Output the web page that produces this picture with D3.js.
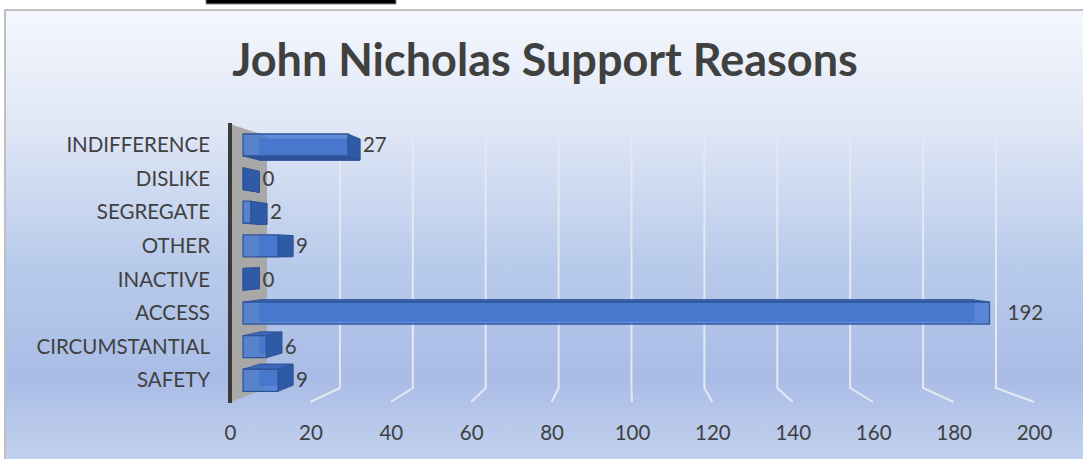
<!DOCTYPE html>
<html>
<head>
<meta charset="utf-8">
<script src="https://cdn.jsdelivr.net/npm/d3@7/dist/d3.min.js"></script>
<style>
  html, body { margin: 0; padding: 0; background: #ffffff; }
  svg { display: block; }
  text { font-family: Lato, "Open Sans", sans-serif; fill: #404040; }
</style>
</head>
<body>
<svg id="chart" width="1083" height="459"></svg>
<script>
const title = "John Nicholas Support Reasons";
const categories = ["INDIFFERENCE", "DISLIKE", "SEGREGATE", "OTHER", "INACTIVE", "ACCESS", "CIRCUMSTANTIAL", "SAFETY"];
const values = [27, 0, 2, 9, 0, 192, 6, 9];
const tickValues = [0, 20, 40, 60, 80, 100, 120, 140, 160, 180, 200];

const svg = d3.select("#chart");
const W = 1083, H = 459;

// perspective set-up (front plane coordinates projected toward a vanishing point)
const VP = [626.6, 252];
const C = 0.1029;
function proj(X, Y, z) {
  const k = 1 / (1 + C * z);
  return [VP[0] + (X - VP[0]) * k, VP[1] + (Y - VP[1]) * k];
}
const ptsStr = pts => pts.map(p => p[0].toFixed(2) + "," + p[1].toFixed(2)).join(" ");

const x = d3.scaleLinear().domain([0, 200]).range([230, 1034]);
const y = d3.scaleBand().domain(categories).range([124, 402]).paddingInner(0.345).paddingOuter(0.1725);
const FLOOR = 402, TOP = 124;

// defs
const defs = svg.append("defs");
const bg = defs.append("linearGradient").attr("id", "bg").attr("x1", 0).attr("y1", 0).attr("x2", 0).attr("y2", 1);
[[0, "#f4f7fd"], [0.25, "#e0e7f6"], [0.55, "#b9cbeb"], [0.8, "#a9bce6"], [1, "#c5d4ee"]].forEach(s =>
  bg.append("stop").attr("offset", s[0]).attr("stop-color", s[1]));

// black strip at top
svg.append("rect").attr("x", 206).attr("y", -2).attr("width", 190).attr("height", 6)
  .attr("fill", "#000").attr("stroke", "#888").attr("stroke-width", 1);

// chart panel
svg.append("rect").attr("x", 5).attr("y", 10).attr("width", W + 10).attr("height", H)
  .attr("fill", "url(#bg)").attr("stroke", "#bfbfbf").attr("stroke-width", 2);

// title
svg.append("text").attr("x", 545).attr("y", 76).attr("text-anchor", "middle")
  .style("font-size", "45px").style("font-weight", "bold").attr("fill", "#404040").text(title);

// gridlines (back wall + floor)
const grid = svg.append("g");
tickValues.filter(v => v > 0).forEach(v => {
  const a = proj(x(v), TOP, 1), b = proj(x(v), FLOOR, 1), c = proj(x(v), FLOOR, 0);
  grid.append("polyline").attr("points", ptsStr([a, b, c]))
    .attr("fill", "none").attr("stroke", "#e4e8f0").attr("stroke-width", 2);
});

// side wall
svg.append("polygon")
  .attr("points", ptsStr([proj(x(0), TOP, 0), proj(x(0), TOP, 1), proj(x(0), FLOOR, 1), proj(x(0), FLOOR, 0)]))
  .attr("fill", "#a8a8a8");
svg.append("line").attr("x1", x(0)).attr("x2", x(0)).attr("y1", TOP - 1).attr("y2", FLOOR + 1)
  .attr("stroke", "#3a3a3a").attr("stroke-width", 4);

// bars
const Z0 = 0.33, Z1 = 0.78;
const bars = svg.append("g");
categories.forEach((cat, i) => {
  const v = values[i];
  const X0 = x(0), X1 = x(v), Y0 = y(cat), Y1 = y(cat) + y.bandwidth();
  const g = bars.append("g");
  const edge = "#2f5597";
  // back face
  g.append("polygon").attr("points", ptsStr([proj(X0, Y0, Z1), proj(X1, Y0, Z1), proj(X1, Y1, Z1), proj(X0, Y1, Z1)]))
    .attr("fill", "#3763b3").attr("stroke", edge).attr("stroke-width", 1);
  if (Y0 > VP[1]) {
    g.append("polygon").attr("points", ptsStr([proj(X0, Y0, Z0), proj(X1, Y0, Z0), proj(X1, Y0, Z1), proj(X0, Y0, Z1)]))
      .attr("fill", "#3e69ba").attr("stroke", edge).attr("stroke-width", 1);
  }
  if (Y1 < VP[1]) {
    g.append("polygon").attr("points", ptsStr([proj(X0, Y1, Z0), proj(X1, Y1, Z0), proj(X1, Y1, Z1), proj(X0, Y1, Z1)]))
      .attr("fill", "#2c5199").attr("stroke", edge).attr("stroke-width", 1);
  }
  if (X1 < VP[0]) {
    g.append("polygon").attr("points", ptsStr([proj(X1, Y0, Z0), proj(X1, Y0, Z1), proj(X1, Y1, Z1), proj(X1, Y1, Z0)]))
      .attr("fill", "#2f5aa6").attr("stroke", edge).attr("stroke-width", 1);
  }
  g.append("polygon").attr("points", ptsStr([proj(X0, Y0, Z0), proj(X1, Y0, Z0), proj(X1, Y1, Z0), proj(X0, Y1, Z0)]))
    .attr("fill", "#4a7bd2").attr("fill-opacity", 0.85).attr("stroke", edge).attr("stroke-width", 1.3);

  // data label
  const corners = [proj(X1, Y0, Z0), proj(X1, Y0, Z1), proj(X1, Y1, Z0), proj(X1, Y1, Z1)];
  const maxX = d3.max(corners, p => p[0]);
  const cy = proj(X1, (Y0 + Y1) / 2, Z0)[1];
  svg.append("text").attr("x", maxX + (X1 > VP[0] ? 18 : 3)).attr("y", cy).attr("dy", "0.35em")
    .style("font-size", "20.5px").text(v);

  // category label
  svg.append("text").attr("x", 210).attr("y", cy).attr("dy", "0.35em").attr("text-anchor", "end")
    .style("font-size", "20.5px").text(cat);
});

// value axis labels
const axis = d3.axisBottom(x).tickValues(tickValues).tickSize(0).tickPadding(0);
const ax = svg.append("g").attr("transform", "translate(0,425)").call(axis);
ax.select(".domain").remove();
ax.selectAll("text").style("font-size", "20.5px").attr("fill", "#404040").attr("dy", "0.71em")
  .style("font-family", "Lato, 'Open Sans', sans-serif");
</script>
</body>
</html>
